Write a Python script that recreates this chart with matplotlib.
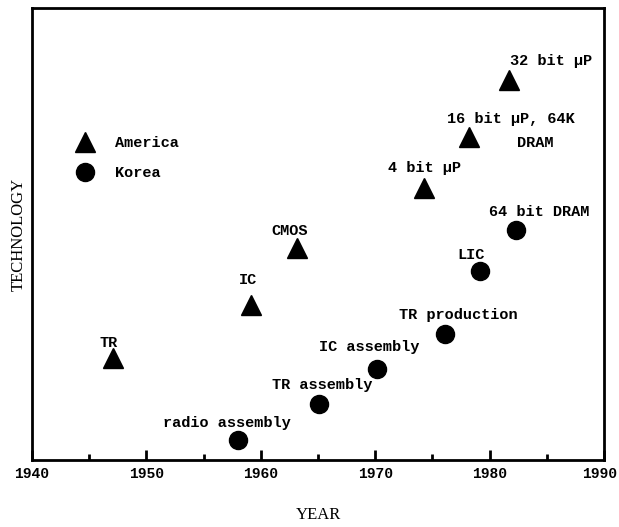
import matplotlib
matplotlib.use("Agg")
import matplotlib.pyplot as plt
import matplotlib.transforms as mtransforms
from matplotlib.ticker import MultipleLocator

# ---- data ----
america_labels = ["TR", "IC", "CMOS", "4 bit \u03bcP", "16 bit \u03bcP, 64K", "32 bit \u03bcP"]
america_years = [1947.1, 1959.1, 1963.2, 1974.3, 1978.2, 1981.7]
america_level = [22.6, 34.3, 46.9, 60.2, 71.5, 84.1]

korea_labels = ["radio assembly", "TR assembly", "IC assembly", "TR production", "LIC", "64 bit DRAM"]
korea_years = [1958.0, 1965.1, 1970.2, 1976.1, 1979.2, 1982.3]
korea_level = [4.4, 12.4, 20.1, 27.9, 41.8, 50.9]

x_ticks = [1940, 1950, 1960, 1970, 1980, 1990]

# ---- layout / style ----
america_offsets = [(-5, 15), (-3, 25), (-8, 17), (0, 20), (42, 18), (42, 19)]
korea_offsets = [(-11, 17), (3, 19), (-8, 22), (13, 19), (-9, 16), (23, 18)]

mono = dict(family="Liberation Mono", weight="bold", size=11)

fig = plt.figure(figsize=(6.19, 5.27), dpi=100)
ax = fig.add_axes([32 / 619, 1 - 460 / 527, 572 / 619, 452 / 527])

ax.plot(america_years, america_level, linestyle="none", marker="^", ms=14,
        color="black", label="America")
ax.plot(korea_years, korea_level, linestyle="none", marker="o", ms=13,
        color="black", label="Korea")

for lab, x, y, off in zip(america_labels, america_years, america_level, america_offsets):
    ax.annotate(lab, (x, y), xytext=off, textcoords="offset pixels",
                ha="center", va="center", **mono)
# second line of the 16 bit label
ax.annotate("DRAM", (america_years[4], america_level[4]), xytext=(66, -6),
            textcoords="offset pixels", ha="center", va="center", **mono)

for lab, x, y, off in zip(korea_labels, korea_years, korea_level, korea_offsets):
    ax.annotate(lab, (x, y), xytext=off, textcoords="offset pixels",
                ha="center", va="center", **mono)

ax.set_xlim(x_ticks[0], x_ticks[-1])
ax.set_ylim(0, 100)
ax.set_xticks(x_ticks)
ax.set_xticklabels([str(t) for t in x_ticks], family="Liberation Mono",
                   weight="bold", size=10.5)
ax.xaxis.set_minor_locator(MultipleLocator(5))
ax.tick_params(axis="x", which="major", direction="in", length=7, width=2, pad=5)
ax.tick_params(axis="x", which="minor", direction="in", length=4, width=2)
ax.set_yticks([])
for s in ax.spines.values():
    s.set_linewidth(2)

# nudge the last tick label inward so it is not cut at the figure edge
last = ax.get_xticklabels()[-1]
last.set_transform(last.get_transform() +
                   mtransforms.ScaledTranslation(-4 / 100, 0, fig.dpi_scale_trans))

ax.set_xlabel("YEAR", family="Liberation Serif", size=12, labelpad=19)
ax.set_ylabel("TECHNOLOGY", family="Liberation Serif", size=12, labelpad=4)

leg = ax.legend(loc="upper left", bbox_to_anchor=(0.079, 0.717), frameon=False,
                prop=dict(family="Liberation Mono", weight="bold", size=11),
                handletextpad=1.5, labelspacing=1.05, handlelength=1.0,
                borderpad=0, borderaxespad=0)

fig.savefig("out.png", dpi=100)
